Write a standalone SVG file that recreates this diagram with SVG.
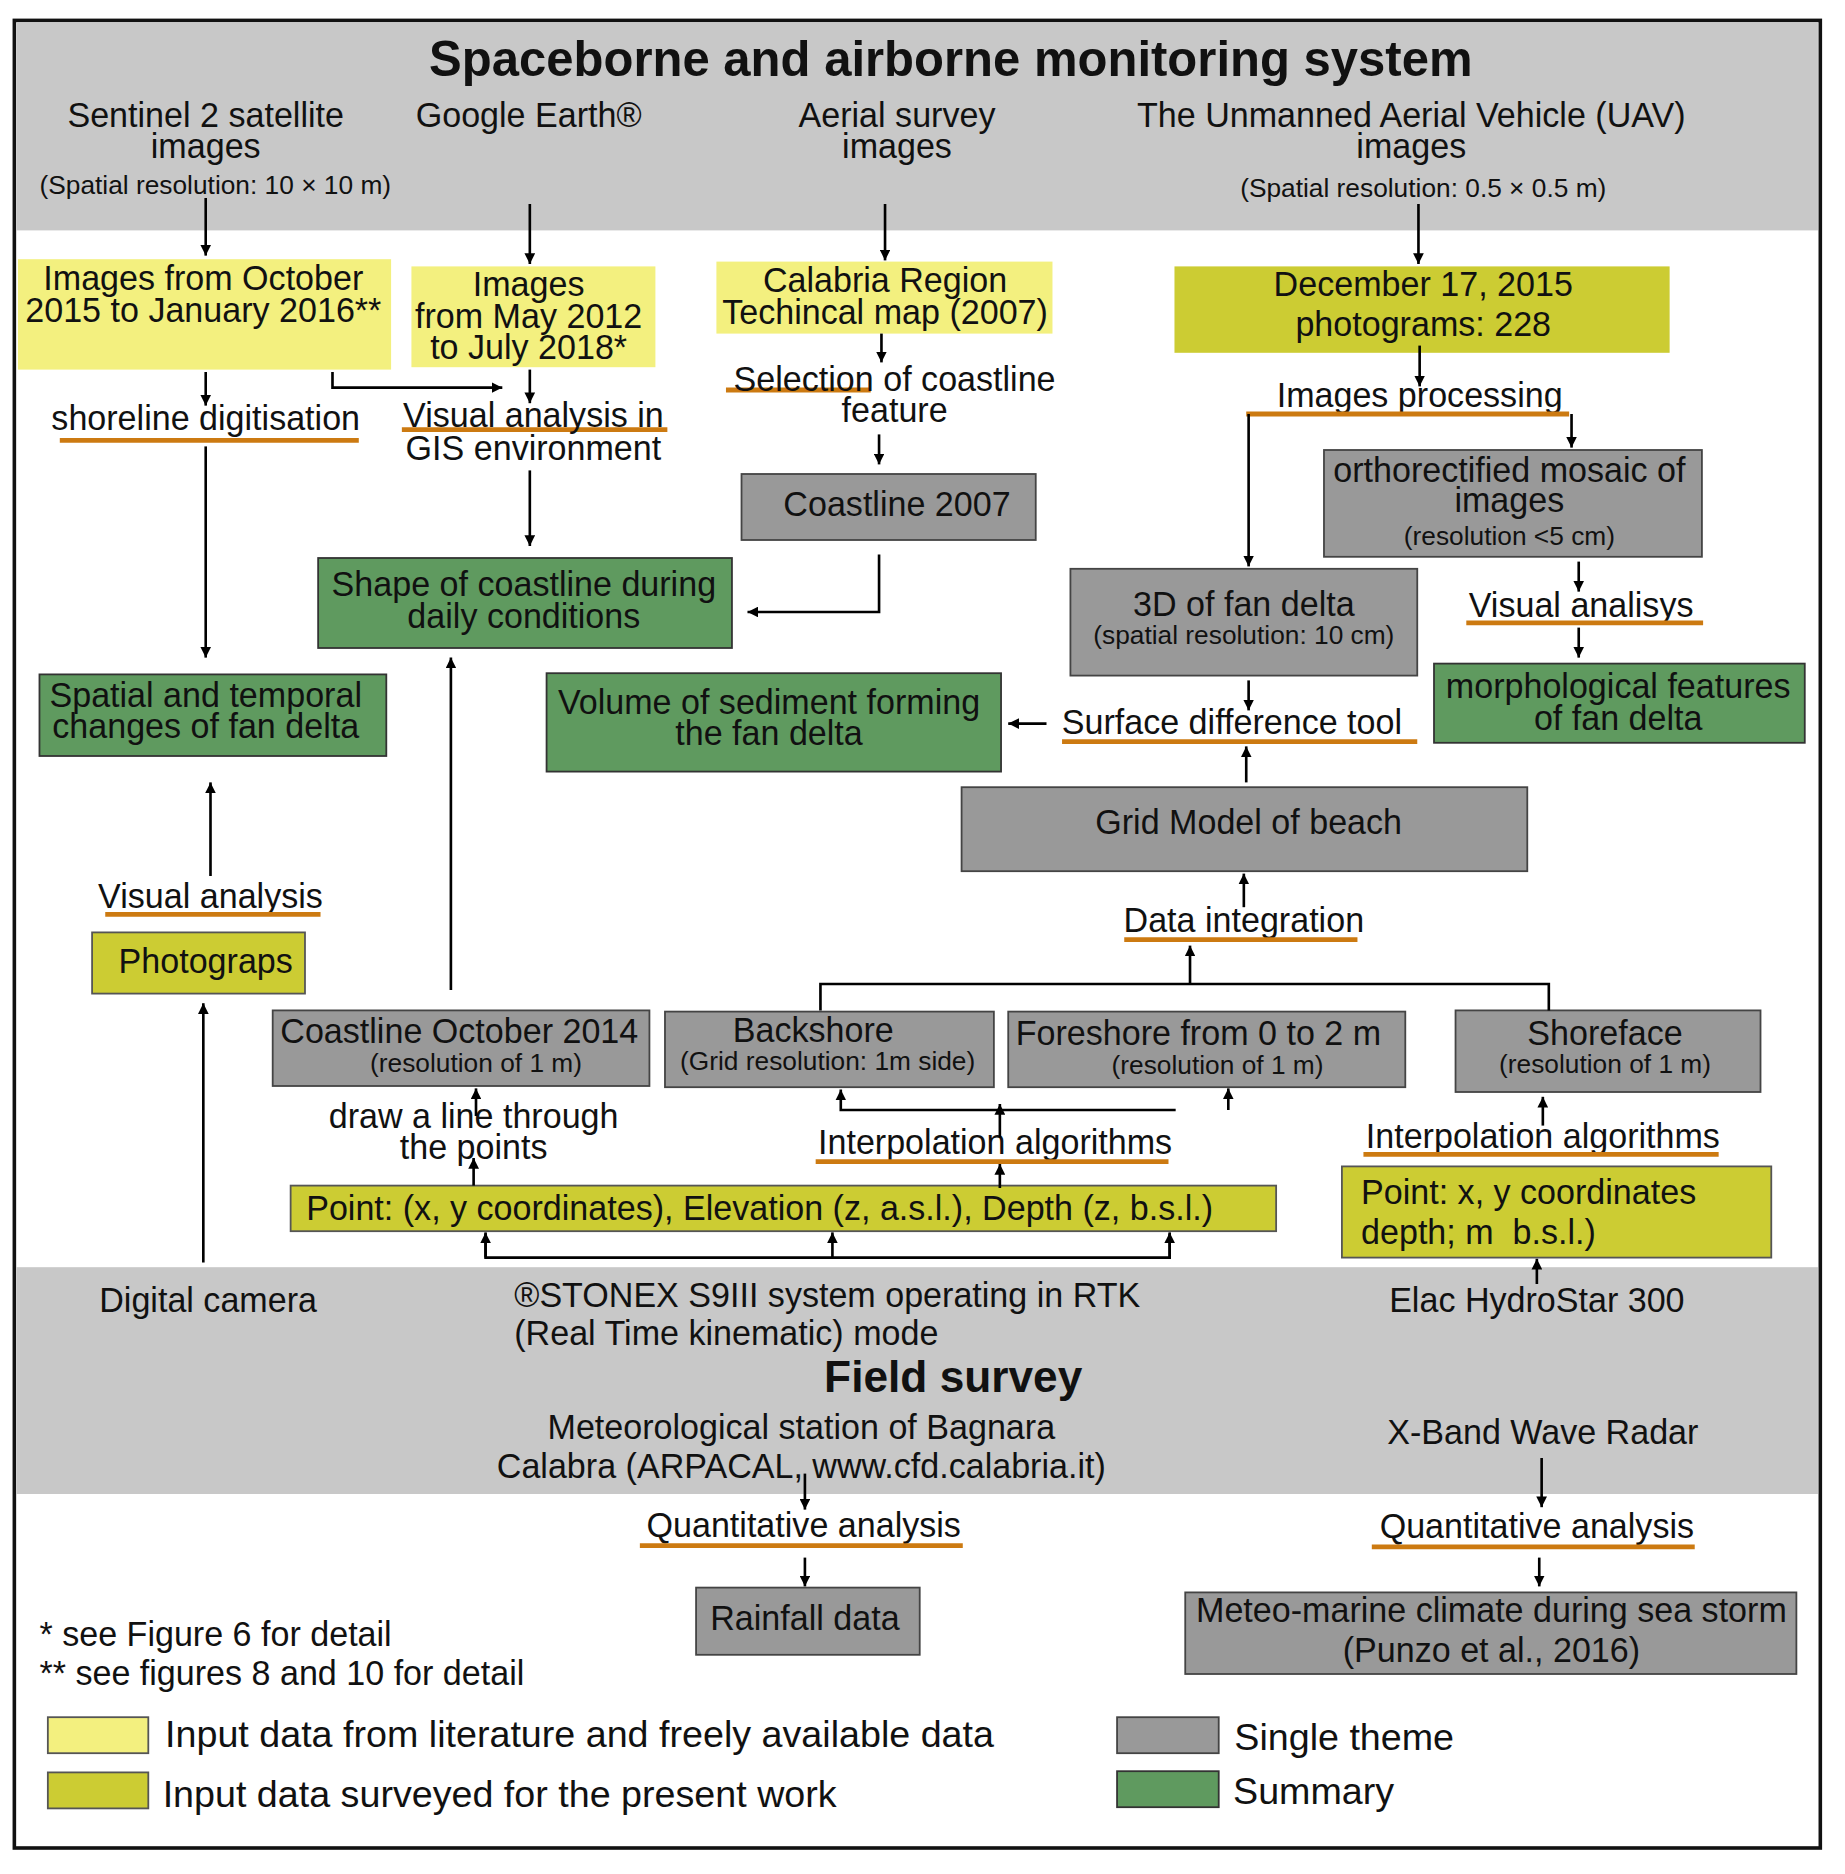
<svg xmlns="http://www.w3.org/2000/svg" width="1845" height="1874" viewBox="0 0 1845 1874">
<defs>
<marker id="ah" viewBox="0 0 10 10" refX="10" refY="5" markerWidth="9" markerHeight="9" markerUnits="userSpaceOnUse" orient="auto"><path d="M0,0 L10,5 L0,10 z" fill="#000"/></marker>
<style>
text{font-family:"Liberation Sans",Arial,sans-serif;fill:#111;font-size:28.5px}
.c{text-anchor:middle}
.s{font-size:22px}
.ly{fill:#f3f07f}
.dy{fill:#cccc33;stroke:#555;stroke-width:1.5}
.gr{fill:#999;stroke:#444;stroke-width:1.5}
.gn{fill:#5f9a5f;stroke:#333;stroke-width:1.5}
.ul{stroke:#cc7a11;stroke-width:4}
.cn line,.cn polyline{stroke:#000;stroke-width:2.2;fill:none}
.a{marker-end:url(#ah)}
.lg{font-size:31.5px}
</style>
</defs>
<rect width="1845" height="1874" fill="#fff"/>
<g transform="scale(1.196,1.2)">
<rect x="14" y="19" width="1506" height="173" fill="#c8c8c8"/>
<rect x="14" y="1056" width="1506" height="189" fill="#c8c8c8"/>
<rect x="12" y="17" width="1510" height="1523" fill="none" stroke="#111" stroke-width="3"/>
<g id="header">
<text x="795" y="63" class="c" style="font-size:41px;font-weight:bold">Spaceborne and airborne monitoring system</text>
<text x="172" y="106" class="c">Sentinel 2 satellite</text><text x="172" y="132" class="c">images</text>
<text x="180" y="162" class="c s">(Spatial resolution: 10 × 10 m)</text>
<text x="442" y="106" class="c">Google Earth®</text>
<text x="750" y="106" class="c">Aerial survey</text><text x="750" y="132" class="c">images</text>
<text x="1180" y="106" class="c">The Unmanned Aerial Vehicle (UAV)</text><text x="1180" y="132" class="c">images</text>
<text x="1190" y="164" class="c s">(Spatial resolution: 0.5 × 0.5 m)</text>
</g>
<g id="n1"><rect x="15" y="216" width="312" height="92" class="ly"/><text x="170" y="242" class="c">Images from October</text><text x="170" y="268" class="c">2015 to January 2016**</text></g>
<g id="n2"><rect x="344" y="222" width="204" height="84" class="ly"/><text x="442" y="247" class="c">Images</text><text x="442" y="273" class="c">from May 2012</text><text x="442" y="299" class="c">to July 2018*</text></g>
<g id="n3"><rect x="599" y="218" width="281" height="60" class="ly"/><text x="740" y="243" class="c">Calabria Region</text><text x="740" y="270" class="c">Techincal map (2007)</text></g>
<g id="n4"><rect x="982" y="222" width="414" height="72" class="dy" style="stroke:none"/><text x="1190" y="247" class="c">December 17, 2015</text><text x="1190" y="280" class="c">photograms: 228</text></g>
<g id="l1"><text x="172" y="358" class="c">shoreline digitisation</text><line x1="50" y1="367" x2="300" y2="367" class="ul"/></g>
<g id="l2"><line x1="336" y1="358" x2="558" y2="358" class="ul"/><text x="446" y="356" class="c">Visual analysis in</text><text x="446" y="383" class="c">GIS environment</text></g>
<g id="l3"><line x1="607" y1="325" x2="728" y2="325" class="ul"/><text x="748" y="326" class="c">Selection of coastline</text><text x="748" y="352" class="c">feature</text></g>
<g id="n5"><rect x="620" y="395" width="246" height="55" class="gr"/><text x="750" y="430" class="c">Coastline 2007</text></g>
<g id="n6"><rect x="266" y="465" width="346" height="75" class="gn"/><text x="438" y="497" class="c">Shape of coastline during</text><text x="438" y="523" class="c">daily conditions</text></g>
<g id="n7"><rect x="33" y="562" width="290" height="68" class="gn"/><text x="172" y="589" class="c">Spatial and temporal</text><text x="172" y="615" class="c">changes of fan delta</text></g>
<g id="n8"><rect x="457" y="561" width="380" height="82" class="gn"/><text x="643" y="595" class="c">Volume of sediment forming</text><text x="643" y="621" class="c">the fan delta</text></g>
<g id="l4"><text x="1187" y="339" class="c">Images processing</text><line x1="1042" y1="345" x2="1312" y2="345" class="ul"/></g>
<g id="n9"><rect x="1107" y="375" width="316" height="89" class="gr"/><text x="1262" y="402" class="c">orthorectified mosaic of</text><text x="1262" y="427" class="c">images</text><text x="1262" y="454" class="c s">(resolution &lt;5 cm)</text></g>
<g id="l5"><text x="1322" y="514" class="c">Visual analisys</text><line x1="1226" y1="519" x2="1424" y2="519" class="ul"/></g>
<g id="n10"><rect x="1199" y="553" width="310" height="66" class="gn"/><text x="1353" y="582" class="c">morphological features</text><text x="1353" y="608" class="c">of fan delta</text></g>
<g id="n11"><rect x="895" y="474" width="290" height="89" class="gr"/><text x="1040" y="513" class="c">3D of fan delta</text><text x="1040" y="537" class="c s">(spatial resolution: 10 cm)</text></g>
<g id="l6"><text x="1030" y="612" class="c">Surface difference tool</text><line x1="888" y1="618" x2="1185" y2="618" class="ul"/></g>
<g id="n12"><rect x="804" y="656" width="473" height="70" class="gr"/><text x="1044" y="695" class="c">Grid Model of beach</text></g>
<g id="l7"><text x="1040" y="777" class="c">Data integration</text><line x1="940" y1="783" x2="1135" y2="783" class="ul"/></g>
<g id="n13"><rect x="228" y="842" width="315" height="63" class="gr"/><text x="384" y="869" class="c">Coastline October 2014</text><text x="398" y="893" class="c s">(resolution of 1 m)</text></g>
<g id="n14"><rect x="556" y="843" width="275" height="63" class="gr"/><text x="680" y="868" class="c">Backshore</text><text x="692" y="892" class="c s">(Grid resolution: 1m side)</text></g>
<g id="n15"><rect x="843" y="843" width="332" height="63" class="gr"/><text x="1002" y="871" class="c">Foreshore from 0 to 2 m</text><text x="1018" y="895" class="c s">(resolution of 1 m)</text></g>
<g id="n16"><rect x="1217" y="842" width="255" height="68" class="gr"/><text x="1342" y="871" class="c">Shoreface</text><text x="1342" y="894" class="c s">(resolution of 1 m)</text></g>
<g id="l8"><text x="396" y="940" class="c">draw a line through</text><text x="396" y="966" class="c">the points</text></g>
<g id="l9"><text x="832" y="962" class="c">Interpolation algorithms</text><line x1="682" y1="968" x2="977" y2="968" class="ul"/></g>
<g id="n17"><rect x="243" y="988" width="824" height="38" class="dy"/><text x="256" y="1017">Point: (x, y coordinates), Elevation (z, a.s.l.), Depth (z, b.s.l.)</text></g>
<g id="l10"><text x="1290" y="957" class="c">Interpolation algorithms</text><line x1="1140" y1="962" x2="1437" y2="962" class="ul"/></g>
<g id="n18"><rect x="1122" y="972" width="359" height="76" class="dy"/><text x="1138" y="1003">Point: x, y coordinates</text><text x="1138" y="1037" xml:space="preserve">depth; m  b.s.l.)</text></g>
<g id="n19"><rect x="77" y="777" width="178" height="51" class="dy"/><text x="172" y="811" class="c">Photograps</text></g>
<g id="l11"><text x="176" y="757" class="c">Visual analysis</text><line x1="88" y1="762" x2="268" y2="762" class="ul"/></g>
<g id="field">
<text x="174" y="1093" class="c">Digital camera</text>
<text x="430" y="1089">®STONEX S9III system operating in RTK</text>
<text x="430" y="1121">(Real Time kinematic) mode</text>
<text x="1285" y="1093" class="c">Elac HydroStar 300</text>
<text x="797" y="1160" class="c" style="font-size:37px;font-weight:bold">Field survey</text>
<text x="670" y="1199" class="c">Meteorological station of Bagnara</text>
<text x="670" y="1232" class="c">Calabra (ARPACAL, www.cfd.calabria.it)</text>
<text x="1290" y="1203" class="c">X-Band Wave Radar</text>
</g>
<g id="l12"><text x="672" y="1281" class="c">Quantitative analysis</text><line x1="535" y1="1288" x2="805" y2="1288" class="ul"/></g>
<g id="l13"><text x="1285" y="1282" class="c">Quantitative analysis</text><line x1="1147" y1="1289" x2="1417" y2="1289" class="ul"/></g>
<g id="n20"><rect x="582" y="1323" width="187" height="56" class="gr"/><text x="673" y="1358" class="c">Rainfall data</text></g>
<g id="n21"><rect x="991" y="1327" width="511" height="68" class="gr"/><text x="1247" y="1352" class="c">Meteo-marine climate during sea storm</text><text x="1247" y="1385" class="c">(Punzo et al., 2016)</text></g>
<g id="notes"><text x="33" y="1372">* see Figure 6 for detail</text><text x="33" y="1404">** see figures 8 and 10 for detail</text></g>
<g id="legend">
<rect x="40" y="1431" width="84" height="30" class="ly" stroke="#555" stroke-width="1.5"/><text x="138" y="1456" class="lg">Input data from literature and freely available data</text>
<rect x="40" y="1477" width="84" height="30" class="dy"/><text x="136" y="1506" class="lg">Input data surveyed for the present work</text>
<rect x="934" y="1431" width="85" height="30" class="gr"/><text x="1032" y="1458" class="lg">Single theme</text>
<rect x="934" y="1476" width="85" height="30" class="gn"/><text x="1031" y="1503" class="lg">Summary</text>
</g>
<g id="connectors" class="cn">
<line x1="172" y1="165" x2="172" y2="213" class="a"/>
<line x1="443" y1="170" x2="443" y2="220" class="a"/>
<line x1="740" y1="170" x2="740" y2="217" class="a"/>
<line x1="1186" y1="170" x2="1186" y2="220" class="a"/>
<line x1="172" y1="310" x2="172" y2="338" class="a"/>
<polyline points="278,310 278,323 420,323" class="a"/>
<line x1="443" y1="308" x2="443" y2="336" class="a"/>
<line x1="443" y1="392" x2="443" y2="455" class="a"/>
<line x1="172" y1="372" x2="172" y2="548" class="a"/>
<line x1="737" y1="278" x2="737" y2="302" class="a"/>
<line x1="735" y1="362" x2="735" y2="387" class="a"/>
<polyline points="735,462 735,510 625,510" class="a"/>
<line x1="377" y1="825" x2="377" y2="548" class="a"/>
<line x1="1187" y1="288" x2="1187" y2="322" class="a"/>
<polyline points="1044,345 1044,472" class="a"/>
<polyline points="1314,345 1314,373" class="a"/>
<line x1="1320" y1="468" x2="1320" y2="493" class="a"/>
<line x1="1320" y1="523" x2="1320" y2="548" class="a"/>
<line x1="1044" y1="567" x2="1044" y2="592" class="a"/>
<line x1="875" y1="603" x2="843" y2="603" class="a"/>
<line x1="1042" y1="652" x2="1042" y2="622" class="a"/>
<line x1="1040" y1="756" x2="1040" y2="728" class="a"/>
<line x1="995" y1="820" x2="995" y2="788" class="a"/>
<polyline points="686,842 686,820 1295,820 1295,842"/>
<line x1="398" y1="930" x2="398" y2="907" class="a"/>
<line x1="396" y1="988" x2="396" y2="965" class="a"/>
<polyline points="983,925 703,925 703,908" class="a"/>
<line x1="1027" y1="925" x2="1027" y2="907" class="a"/>
<line x1="836" y1="948" x2="836" y2="920" class="a"/>
<line x1="836" y1="990" x2="836" y2="970" class="a"/>
<polyline points="406,1028 406,1048 978,1048 978,1028"/>
<line x1="406" y1="1048" x2="406" y2="1027" class="a"/>
<line x1="696" y1="1048" x2="696" y2="1027" class="a"/>
<line x1="978" y1="1048" x2="978" y2="1027" class="a"/>
<line x1="1290" y1="938" x2="1290" y2="914" class="a"/>
<line x1="1285" y1="1070" x2="1285" y2="1049" class="a"/>
<line x1="170" y1="1052" x2="170" y2="836" class="a"/>
<line x1="176" y1="730" x2="176" y2="652" class="a"/>
<line x1="673" y1="1228" x2="673" y2="1258" class="a"/>
<line x1="673" y1="1298" x2="673" y2="1322" class="a"/>
<line x1="1289" y1="1215" x2="1289" y2="1256" class="a"/>
<line x1="1287" y1="1298" x2="1287" y2="1322" class="a"/>
</g>
</g>
</svg>
